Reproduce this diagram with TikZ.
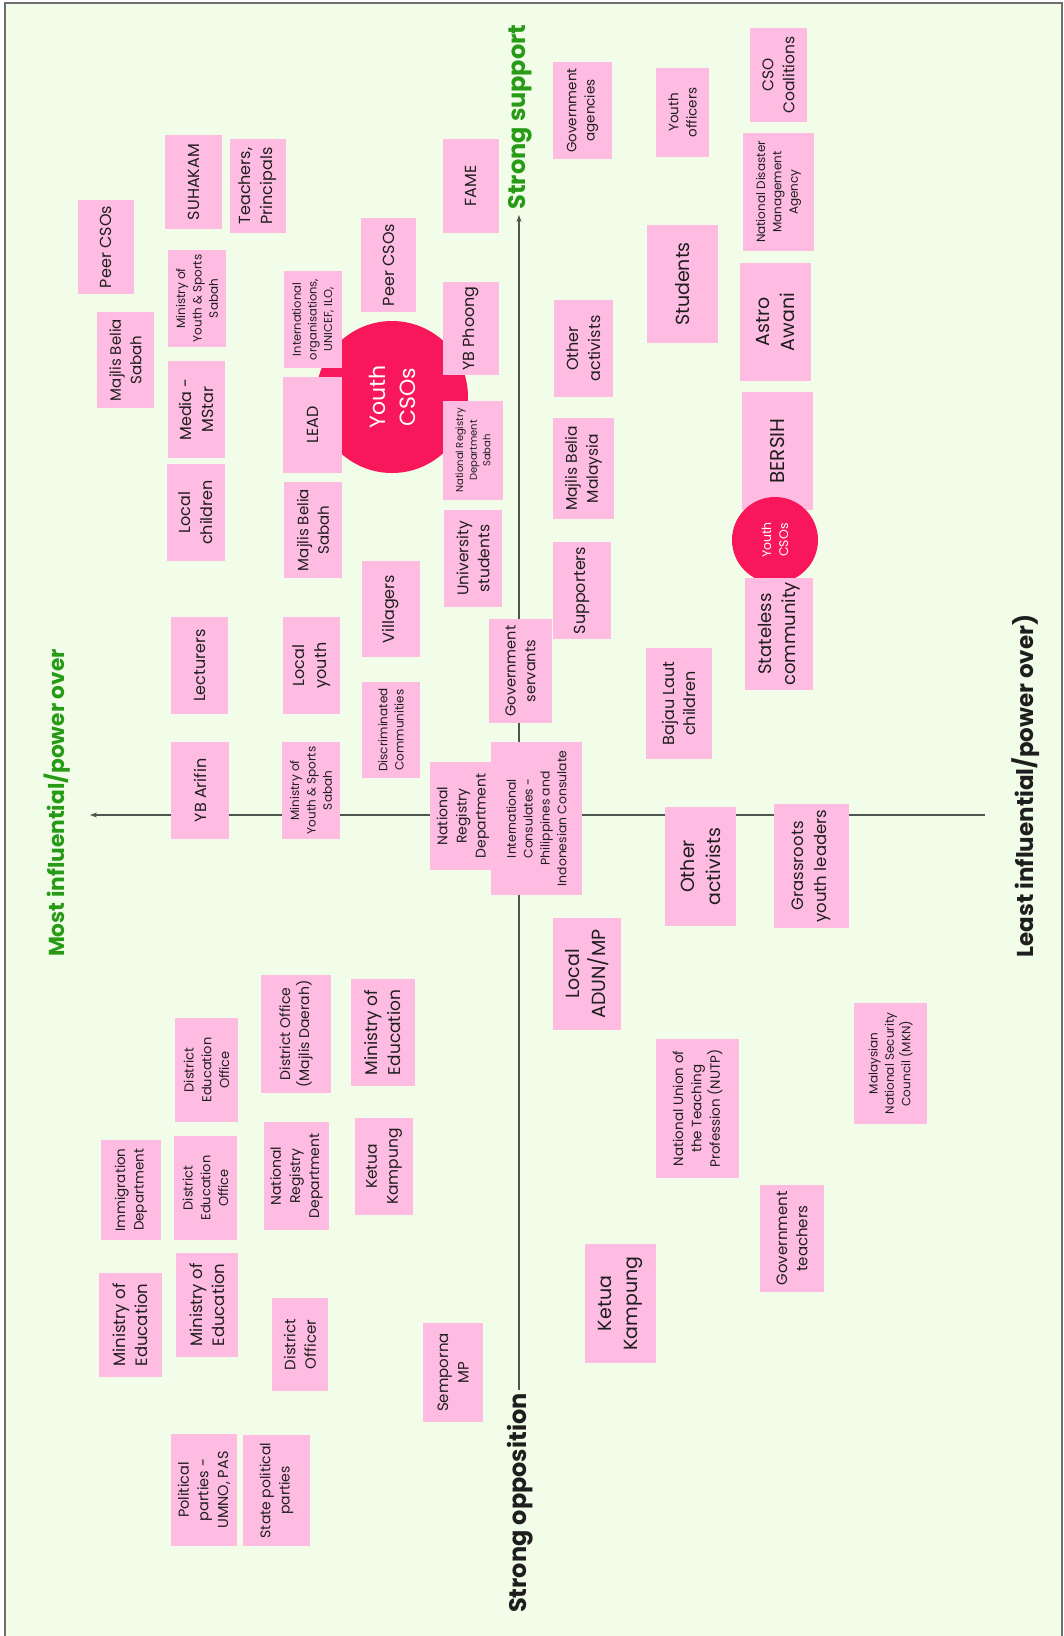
\documentclass[tikz,border=0pt]{standalone}
\usepackage{fontspec}
\setmainfont{Poppins}
\usetikzlibrary{arrows.meta}

\definecolor{bgpale}{HTML}{F2FDE9}
\definecolor{stickpink}{HTML}{FFBCE2}
\definecolor{hotpink}{HTML}{F8175A}
\definecolor{axisgreen}{HTML}{279A16}
\definecolor{inkdark}{HTML}{1E1E1E}
\definecolor{framegrey}{HTML}{6E6E6E}
\definecolor{axisgrey}{HTML}{4E544E}

% font size with proportional line spacing
\newcommand\fsz[1]{\pgfmathsetlengthmacro\stkskip{#1*1.36}\fontsize{#1}{\stkskip}\selectfont}
% sticky note: name, x1, y1, x2, y2, font size, text
\newcommand\stk[7]{%
  \node[stkbox, font=\fsz{#6}, minimum width={(#5-#3)*1pt}, minimum height={(#4-#2)*1pt}]
    (#1) at ({(#2+#4)/2},{(#3+#5)/2}) {#7};}

\tikzset{
  stkbox/.style={rectangle, fill=stickpink, rotate=90, inner sep=1pt, align=center, text=inkdark},
  blob/.style={circle, fill=hotpink, rotate=90, inner sep=0pt, align=center, text=white},
  axisline/.style={draw=axisgrey, line width=1.3pt, -{Stealth[length=7pt,width=5pt]}},
  axislabel/.style={rotate=90, inner sep=0pt, font=\bfseries\fsz{#1}},
}

\begin{document}
\begin{tikzpicture}[x=1pt, y=-1pt]
\useasboundingbox (0,0) rectangle (1064,1636);
\fill[white] (0,0) rectangle (1064,1636);
\fill[bgpale] (5,3) rectangle (1062,1636);
\draw[framegrey, line width=2pt] (5,1636) -- (5,3) -- (1062,3) -- (1062,1636);

% axes
\coordinate (vtop) at (519,215);
\coordinate (vbot) at (519,1390);
\coordinate (hleft) at (90,815);
\coordinate (hright) at (985,815);
\draw[axisline] (vbot) -- (vtop);
\draw[axisline] (hright) -- (hleft);

\node[axislabel=24, text=axisgreen] (lsupport) at (520,117) {Strong support};
\node[axislabel=24, text=inkdark] (loppose) at (520,1503) {Strong opposition};
\node[axislabel=21.7, text=axisgreen] (lmost) at (57,803) {Most influential/power over};
\node[axislabel=23, text=inkdark] (lleast) at (1026,786) {Least influential/power over)};

% large Youth CSOs marker
\node[blob, minimum size=152pt, font=\fsz{22}] (csobig) at (392,397) {Youth\\CSOs};

% upper left quadrant
\stk{suhakam}{165}{135}{222}{229}{16}{SUHAKAM}
\stk{teachers}{230}{139}{286}{233}{16}{Teachers,\\Principals}
\stk{peerA}{78}{200}{134}{294}{16}{Peer CSOs}
\stk{moysA}{168}{250}{226}{347}{12}{Ministry of\\Youth \& Sports\\Sabah}
\stk{mbsA}{97}{312}{154}{408}{15}{Majlis Belia\\Sabah}
\stk{media}{168}{361}{225}{458}{16}{Media -\\MStar}
\stk{intlorg}{284}{271}{342}{368}{11.5}{International\\organisations,\\UNICEF, ILO,}
\stk{lead}{283}{377}{342}{473}{16}{LEAD}
\stk{lchild}{167}{464}{225}{561}{16}{Local\\children}
\stk{mbsB}{284}{482}{342}{578}{15}{Majlis Belia\\Sabah}
\stk{lecturers}{171}{617}{228}{714}{16}{Lecturers}
\stk{lyouth}{283}{617}{340}{714}{16}{Local\\youth}
\stk{arifin}{171}{742}{229}{839}{16}{YB Arifin}
\stk{moysB}{282}{742}{340}{839}{12}{Ministry of\\Youth \& Sports\\Sabah}
\stk{peerB}{361}{218}{416}{312}{16}{Peer CSOs}
\stk{fame}{443}{139}{499}{233}{16}{FAME}
\stk{phoong}{443}{282}{499}{375}{16}{YB Phoong}
\stk{nrdsabah}{443}{401}{503}{500}{10}{National Registry\\Department\\Sabah}
\stk{unistud}{444}{510}{502}{607}{15.5}{University\\students}
\stk{villagers}{362}{561}{420}{657}{16}{Villagers}
\stk{discrim}{362}{682}{420}{778}{12}{Discriminated\\Communities}
\stk{govserv}{489}{619}{552}{723}{14.5}{Government\\servants}
\stk{nrdmid}{430}{762}{496}{870}{14}{National\\Registry\\Department}
\stk{consul}{491}{742}{582}{895}{12.4}{International\\Consulates -\\Philippines and\\Indonesian Consulate}

% upper right quadrant
\stk{mbm}{553}{418}{614}{519}{15.5}{Majlis Belia\\Malaysia}
\stk{supporters}{553}{542}{611}{639}{16}{Supporters}
\stk{bajau}{646}{648}{712}{759}{16}{Bajau Laut\\children}
\stk{govag}{553}{62}{612}{159}{13.5}{Government\\agencies}
\stk{youthoff}{656}{68}{709}{157}{13.5}{Youth\\officers}
\stk{otheractA}{554}{300}{613}{397}{16}{Other\\activists}
\stk{students}{647}{225}{718}{343}{19}{Students}
\stk{csocoal}{750}{28}{807}{122}{15.5}{CSO\\Coalitions}
\stk{ndma}{743}{133}{814}{251}{12}{National Disaster\\Management\\Agency}
\stk{astro}{740}{263}{811}{381}{19}{Astro\\Awani}
\stk{bersih}{742}{392}{813}{510}{20}{BERSIH}
\node[blob, minimum size=86pt, font=\fsz{12.5}] (csosmall) at (775,540) {Youth\\CSOs};
\stk{stateless}{745}{578}{813}{690}{18}{Stateless\\community}

% lower left quadrant
\stk{deoA}{175}{1018}{238}{1122}{13}{District\\Education\\Office}
\stk{distoffice}{261}{975}{331}{1093}{14}{District Office\\(Majlis Daerah)}
\stk{immig}{101}{1140}{161}{1240}{13.5}{Immigration\\Department}
\stk{deoB}{174}{1136}{237}{1240}{13}{District\\Education\\Office}
\stk{nrdleft}{264}{1122}{329}{1230}{14}{National\\Registry\\Department}
\stk{moeA}{351}{979}{415}{1086}{17}{Ministry of\\Education}
\stk{ketuaA}{355}{1118}{413}{1215}{15.5}{Ketua\\Kampung}
\stk{moeB}{99}{1273}{162}{1377}{16.5}{Ministry of\\Education}
\stk{moeC}{176}{1253}{238}{1357}{16.5}{Ministry of\\Education}
\stk{distofficer}{272}{1298}{328}{1391}{15}{District\\Officer}
\stk{polpar}{171}{1434}{237}{1546}{14.5}{Political\\parties -\\UMNO, PAS}
\stk{statepol}{243}{1435}{310}{1546}{14}{State political\\parties}
\stk{semporna}{423}{1323}{483}{1422}{15}{Semporna\\MP}

% lower right quadrant
\stk{adun}{553}{918}{621}{1030}{19}{Local\\ADUN/MP}
\stk{otheractB}{665}{807}{736}{926}{19}{Other\\activists}
\stk{nutp}{656}{1039}{739}{1178}{13.5}{National Union of\\the Teaching\\Profession (NUTP)}
\stk{grassroots}{774}{804}{849}{928}{16.5}{Grassroots\\youth leaders}
\stk{mkn}{854}{1003}{927}{1124}{12}{Malaysian\\National Security\\Council (MKN)}
\stk{govteach}{760}{1185}{824}{1292}{15}{Government\\teachers}
\stk{ketuaB}{585}{1244}{656}{1363}{19}{Ketua\\Kampung}
\end{tikzpicture}
\end{document}
